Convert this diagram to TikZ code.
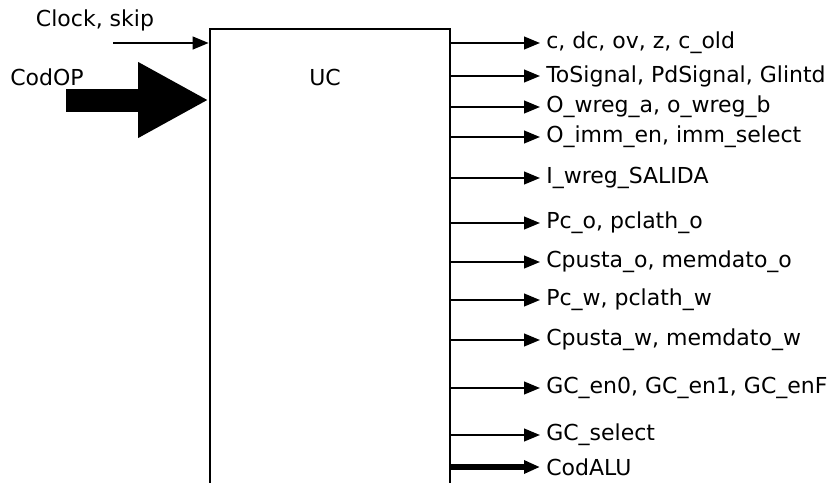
\documentclass[tikz,border=0pt]{standalone}
\usepackage{fontspec}
\setmainfont{DejaVu Sans}
\usetikzlibrary{arrows.meta,positioning}

\tikzset{
	sig/.style={line width=1.6pt, -{Triangle[length=12pt,width=9.5pt]}},
	bus/.style={line width=3.8pt, -{Triangle[length=12pt,width=9.5pt]}},
	fatbus/.style={line width=17.25pt, -{Triangle[length=53pt,width=53pt]}},
	lbl/.style={anchor=west, inner sep=4.5pt},
}

\begin{document}
\begin{tikzpicture}[x=0.75pt, y=-0.75pt, font=\fontsize{16.5}{19}\selectfont]
\def \boxleft {210}
\def \boxright {450}
\def \tipx {540}
\useasboundingbox (0,0) rectangle (835,482);

%UC block (runs past the bottom edge)
\node[draw, line width=2pt, minimum width=180pt, minimum height=353.25pt, inner sep=0pt] (uc) at ({(\boxleft+\boxright)/2},264.5) {};
\node[] (uclabel) at (325,77) {UC};

%Inputs
\node[] (clk) at (95,20) {Clock, skip};
\coordinate (clkin) at (113,43);
\draw[sig] (clkin) -- (uc.west |- clkin);

\node[] (codop) at (47,77) {CodOP};
\coordinate (codin) at (66,100);
\draw[fatbus] (codin) -- (uc.west |- codin);

%Outputs
\node[lbl] (flags) at (\tipx,43) {c, dc, ov, z, c\_old};
\draw[sig] (uc.east |- flags.west) -- (flags.west);
\node[lbl] (tosig) at (\tipx,76) {ToSignal, PdSignal, Glintd};
\draw[sig] (uc.east |- tosig.west) -- (tosig.west);
\node[lbl] (owreg) at (\tipx,107) {O\_wreg\_a, o\_wreg\_b};
\draw[sig] (uc.east |- owreg.west) -- (owreg.west);
\node[lbl] (oimm) at (\tipx,137) {O\_imm\_en, imm\_select};
\draw[sig] (uc.east |- oimm.west) -- (oimm.west);
\node[lbl] (iwreg) at (\tipx,178) {I\_wreg\_SALIDA};
\draw[sig] (uc.east |- iwreg.west) -- (iwreg.west);
\node[lbl] (pco) at (\tipx,223) {Pc\_o, pclath\_o};
\draw[sig] (uc.east |- pco.west) -- (pco.west);
\node[lbl] (cpo) at (\tipx,262) {Cpusta\_o, memdato\_o};
\draw[sig] (uc.east |- cpo.west) -- (cpo.west);
\node[lbl] (pcw) at (\tipx,300) {Pc\_w, pclath\_w};
\draw[sig] (uc.east |- pcw.west) -- (pcw.west);
\node[lbl] (cpw) at (\tipx,340) {Cpusta\_w, memdato\_w};
\draw[sig] (uc.east |- cpw.west) -- (cpw.west);
\node[lbl] (gcen) at (\tipx,388) {GC\_en0, GC\_en1, GC\_enF};
\draw[sig] (uc.east |- gcen.west) -- (gcen.west);
\node[lbl] (gcsel) at (\tipx,435) {GC\_select};
\draw[sig] (uc.east |- gcsel.west) -- (gcsel.west);
\node[lbl] (codalu) at (\tipx,467) {CodALU};
\draw[bus] (uc.east |- codalu.west) -- (codalu.west);

\end{tikzpicture}
\end{document}
